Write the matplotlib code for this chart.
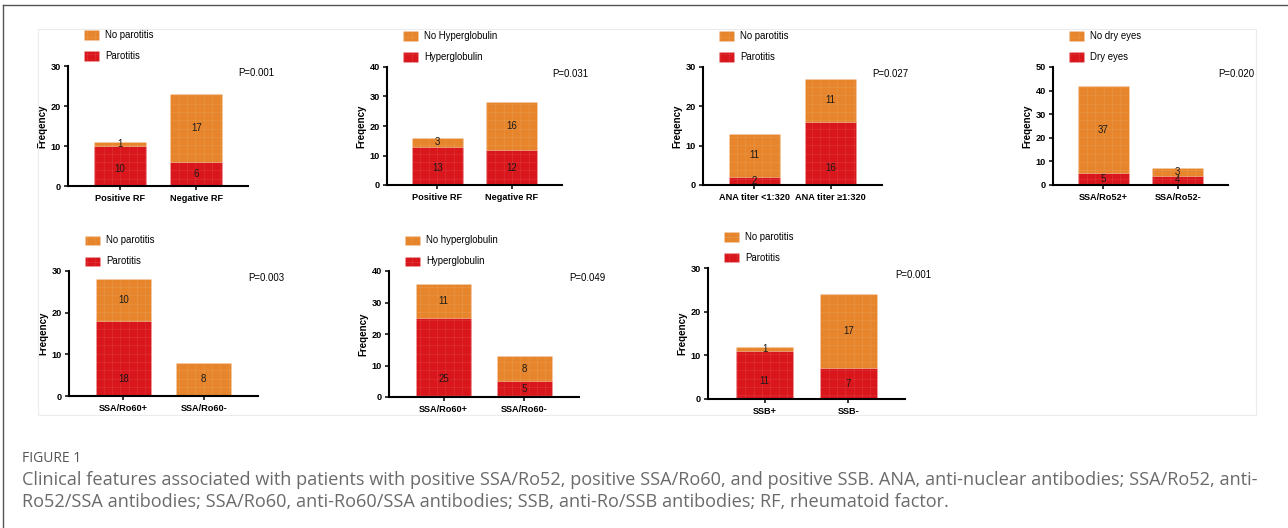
import numpy as np
import matplotlib
matplotlib.use("Agg")
import matplotlib.pyplot as plt
from matplotlib.patches import Rectangle
from matplotlib.lines import Line2D

# ---- data ----
rf_cats = ["Positive RF", "Negative RF"]
ana_cats = ["ANA titer <1:320", "ANA titer \u22651:320"]
ro52_cats = ["SSA/Ro52+", "SSA/Ro52-"]
ro60_cats = ["SSA/Ro60+", "SSA/Ro60-"]
ssb_cats = ["SSB+", "SSB-"]

parotitis_rf = [10, 6]
no_parotitis_rf = [1, 17]
hyper_rf = [13, 12]
no_hyper_rf = [3, 16]
parotitis_ana = [2, 16]
no_parotitis_ana = [11, 11]
dry_eyes_ro52 = [5, 4]
no_dry_eyes_ro52 = [37, 3]
parotitis_ro60 = [18, 0]
no_parotitis_ro60 = [10, 8]
hyper_ro60 = [25, 5]
no_hyper_ro60 = [11, 8]
parotitis_ssb = [11, 7]
no_parotitis_ssb = [1, 17]

p_values = ["P=0.001", "P=0.031", "P=0.027", "P=0.020", "P=0.003", "P=0.049", "P=0.001"]
y_max = [30, 40, 30, 50, 30, 40, 30]

RED = "#d9161b"
ORANGE = "#e6852b"
TEXTURE = (1, 1, 1, 0.16)

W, H = 1288, 528
plt.rcParams["font.family"] = ["Liberation Sans", "DejaVu Sans"]
plt.rcParams["hatch.linewidth"] = 0.35


def fx(x):
    return x / W


def fy(y):
    return 1 - y / H


fig = plt.figure(figsize=(W / 100, H / 100), dpi=100)
fig.patch.set_facecolor("white")

# outer frame (left/top) and light panel frame
fig.add_artist(Line2D([fx(3), fx(3)], [fy(5), 0], transform=fig.transFigure, color="#555555", lw=1))
fig.add_artist(Line2D([fx(3), 1], [fy(5), fy(5)], transform=fig.transFigure, color="#555555", lw=1))
fig.add_artist(Rectangle((fx(38), fy(415)), (1256 - 38) / W, (415 - 29) / H,
                         transform=fig.transFigure, fill=False, edgecolor="#ececec", lw=0.8))


def legend_entry(x, y, color, label):
    # x = left edge of the patch, y = vertical centre (pixels)
    fig.add_artist(Rectangle((fx(x), fy(y + 4.5)), 15 / W, 9 / H, transform=fig.transFigure,
                             facecolor=color, edgecolor=TEXTURE, hatch="++", lw=0.4))
    fig.text(fx(x + 21), fy(y), label, fontsize=6.9, va="center", ha="left")


def draw_panel(rect, cats, red_vals, orange_vals, labels, pval, ymax):
    l, r, t, b = rect
    ax = fig.add_axes([fx(l), fy(b), (r - l) / W, (b - t) / H])
    ax.set_facecolor("none")
    x = np.arange(len(cats))
    width = 0.68
    ax.bar(x, red_vals, width, color=RED, edgecolor=TEXTURE, hatch="++", lw=0.4, zorder=2)
    ax.bar(x, orange_vals, width, bottom=red_vals, color=ORANGE, edgecolor=TEXTURE,
           hatch="++", lw=0.4, zorder=2)

    for xi, rv, ov in zip(x, red_vals, orange_vals):
        if rv > 0:
            ax.text(xi, min(rv / 2, 0.14 * ymax), str(rv), ha="center", va="center",
                    fontsize=7, color="#1a1a1a", zorder=3)
        if ov > 0:
            ax.text(xi, rv + ov / 2, str(ov), ha="center", va="center",
                    fontsize=7, color="#1a1a1a", zorder=3)

    ax.set_xlim(-0.675, 1.675)
    ax.set_ylim(0, ymax)
    ax.set_xticks(x)
    ax.set_xticklabels(cats, fontweight="bold", fontsize=6.6)
    ax.set_yticks(range(0, ymax + 1, 10))
    ax.set_yticklabels([str(v) for v in range(0, ymax + 1, 10)], fontweight="bold", fontsize=6.6)
    ax.tick_params(direction="out", length=3, width=1.1, pad=2)
    ax.tick_params(axis="x", pad=3)
    for side in ["top", "right"]:
        ax.spines[side].set_visible(False)
    for side in ["left", "bottom"]:
        ax.spines[side].set_linewidth(1.5)
    ax.set_ylabel("Freqency", fontweight="bold", fontsize=7)
    ax.yaxis.set_label_coords(-21 / (r - l), 0.5)

    fig.text(fx(r - 10), fy(t + 7), pval, fontsize=6.9, va="center", ha="left")
    legend_entry(l + 16, t - 31, ORANGE, labels[0])
    legend_entry(l + 16, t - 10, RED, labels[1])
    return ax


draw_panel((68, 248, 66, 186), rf_cats, parotitis_rf, no_parotitis_rf,
           ["No parotitis", "Parotitis"], p_values[0], y_max[0])
draw_panel((387, 562, 67, 185), rf_cats, hyper_rf, no_hyper_rf,
           ["No Hyperglobulin", "Hyperglobulin"], p_values[1], y_max[1])
draw_panel((703, 882, 67, 185), ana_cats, parotitis_ana, no_parotitis_ana,
           ["No parotitis", "Parotitis"], p_values[2], y_max[2])
draw_panel((1053, 1228, 67, 185), ro52_cats, dry_eyes_ro52, no_dry_eyes_ro52,
           ["No dry eyes", "Dry eyes"], p_values[3], y_max[3])
draw_panel((69, 258, 271, 396), ro60_cats, parotitis_ro60, no_parotitis_ro60,
           ["No parotitis", "Parotitis"], p_values[4], y_max[4])
draw_panel((389, 579, 271, 397), ro60_cats, hyper_ro60, no_hyper_ro60,
           ["No hyperglobulin", "Hyperglobulin"], p_values[5], y_max[5])
draw_panel((708, 905, 268, 399), ssb_cats, parotitis_ssb, no_parotitis_ssb,
           ["No parotitis", "Parotitis"], p_values[6], y_max[6])

# caption
fig.text(fx(22), fy(458), "FIGURE 1", fontsize=10, color="#555555", family="Open Sans",
         va="center", ha="left")
fig.text(fx(22), fy(480),
         "Clinical features associated with patients with positive SSA/Ro52, positive SSA/Ro60, "
         "and positive SSB. ANA, anti-nuclear antibodies; SSA/Ro52, anti-",
         fontsize=13.1, color="#6a6a6a", family="Open Sans", va="center", ha="left")
fig.text(fx(22), fy(502),
         "Ro52/SSA antibodies; SSA/Ro60, anti-Ro60/SSA antibodies; SSB, anti-Ro/SSB antibodies; "
         "RF, rheumatoid factor.",
         fontsize=13.1, color="#6a6a6a", family="Open Sans", va="center", ha="left")

fig.savefig("out.png", dpi=100)
